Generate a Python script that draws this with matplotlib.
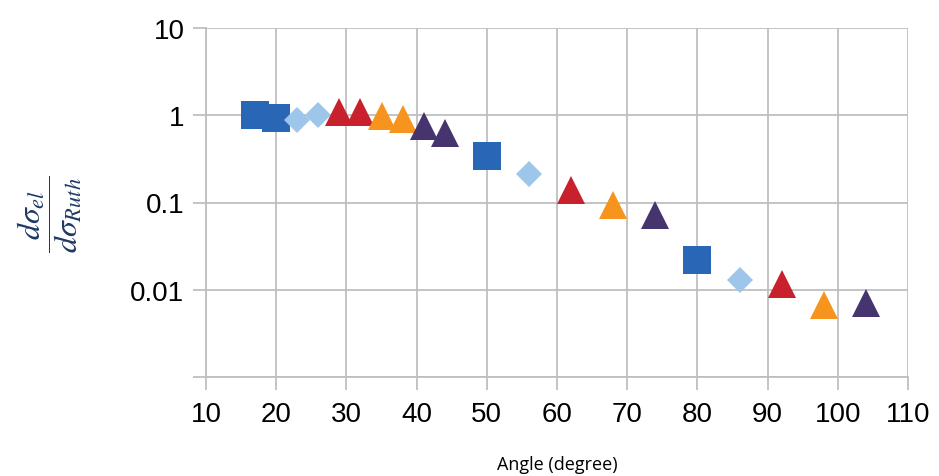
import matplotlib
matplotlib.use("Agg")
import matplotlib.pyplot as plt
from matplotlib.ticker import FixedLocator, FixedFormatter

# Data (angle in degrees, ratio of cross sections)
sq_angle = [17, 20, 50, 80]
sq_ratio = [1.0, 0.93, 0.34, 0.022]

dia_angle = [23, 26, 56, 86]
dia_ratio = [0.88, 1.0, 0.21, 0.013]

red_angle = [29, 32, 62, 92]
red_ratio = [1.08, 1.08, 0.14, 0.0115]

orange_angle = [35, 38, 68, 98]
orange_ratio = [0.97, 0.90, 0.093, 0.0067]

purple_angle = [41, 44, 74, 104]
purple_ratio = [0.76, 0.63, 0.071, 0.0070]

x_ticks = [10, 20, 30, 40, 50, 60, 70, 80, 90, 100, 110]
y_ticks = [0.001, 0.01, 0.1, 1, 10]
y_tick_labels = ["", "0.01", "0.1", "1", "10"]

plt.rcParams["font.family"] = ["Liberation Sans", "DejaVu Sans"]
plt.rcParams["mathtext.fontset"] = "stix"

fig = plt.figure(figsize=(9.39, 4.77), dpi=100)
ax = fig.add_axes([206 / 939, 1 - 378 / 477, (908 - 206) / 939, (378 - 29) / 477])

grid_col = "#BFBFBF"

# Markers
ax.plot(sq_angle, sq_ratio, "s", color="#2A66B6", markersize=19.5, markeredgewidth=0, zorder=3)
ax.plot(dia_angle, dia_ratio, "D", color="#9DC6EA", markersize=13, markeredgewidth=0, zorder=3)
ax.plot(red_angle, red_ratio, "^", color="#C8202C", markersize=20, markeredgewidth=0, zorder=3)
ax.plot(orange_angle, orange_ratio, "^", color="#F7941D", markersize=20, markeredgewidth=0, zorder=3)
ax.plot(purple_angle, purple_ratio, "^", color="#46346F", markersize=20, markeredgewidth=0, zorder=3)

# Axes setup
ax.set_yscale("log")
ax.set_xlim(10, 110)
ax.set_ylim(0.001, 10)
ax.xaxis.set_major_locator(FixedLocator(x_ticks))
ax.yaxis.set_major_locator(FixedLocator(y_ticks))
ax.yaxis.set_major_formatter(FixedFormatter(y_tick_labels))
ax.yaxis.set_minor_locator(FixedLocator([]))
ax.set_xticklabels([str(v) for v in x_ticks])

ax.grid(True, color=grid_col, linewidth=1.3, zorder=0)
ax.set_axisbelow(True)
for side in ["top", "right"]:
    ax.spines[side].set_visible(False)
for side in ["left", "bottom"]:
    ax.spines[side].set_color(grid_col)
    ax.spines[side].set_linewidth(1.3)

ax.tick_params(axis="both", direction="out", length=9.5, width=1.3, color=grid_col,
               labelsize=20, labelcolor="black")
ax.tick_params(axis="x", pad=8)
ax.tick_params(axis="y", pad=6)

ax.set_xlabel("Angle (degree)", fontsize=13, family=["Open Sans", "DejaVu Sans"], labelpad=20)

fig.text(50 / 939, 1 - 214 / 477, r"$\dfrac{d\sigma_{el}}{d\sigma_{Ruth}}$",
         rotation=90, fontsize=23, color="#1F3864", ha="center", va="center")

fig.savefig("out.png", dpi=100)
